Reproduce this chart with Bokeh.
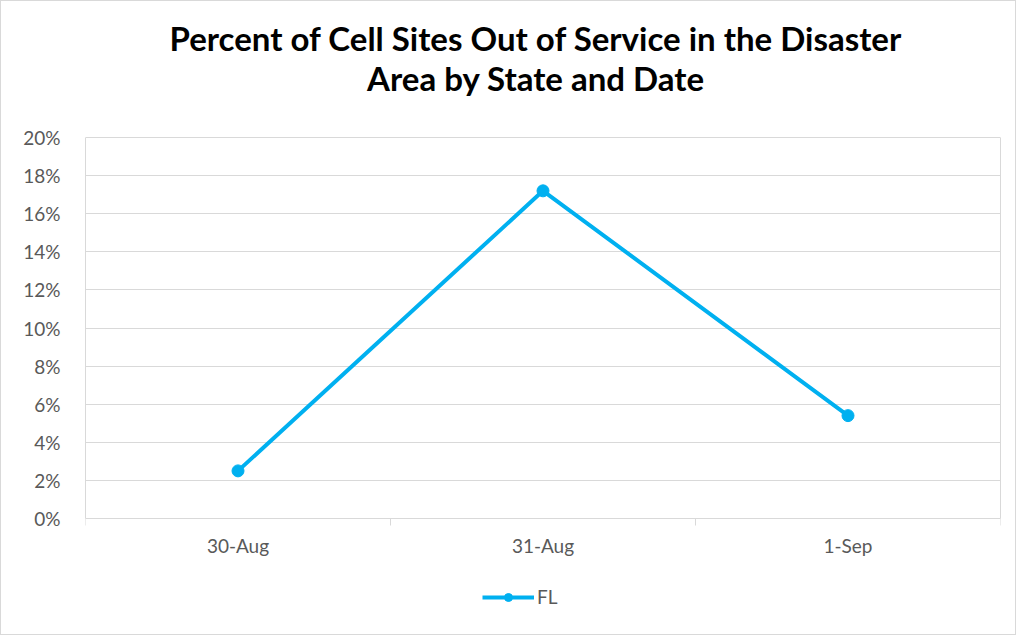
from bokeh.plotting import figure
from bokeh.models import (Range1d, FixedTicker, NumeralTickFormatter, Legend, LegendItem, Label, LinearAxis)
from bokeh.embed import file_html
from bokeh.resources import INLINE

dates = ["30-Aug", "31-Aug", "1-Sep"]
fl_values = [0.025, 0.172, 0.054]
series_name = "FL"
title_lines = ["Percent of Cell Sites Out of Service in the Disaster", "Area by State and Date"]
y_ticks = [0.0, 0.02, 0.04, 0.06, 0.08, 0.10, 0.12, 0.14, 0.16, 0.18, 0.20]

BLUE = "#00B0F0"
GRID = "#d9d9d9"
TXT = "#595959"
FONT = "Lato"

# layout in canvas pixels
W, H = 1016, 635
LEFT, RIGHT, TOP, BOTTOM = 84, 17, 2, 4
ZERO_PX = 517       # canvas y of 0%
GRIDTOP_PX = 136    # canvas y of top tick
TITLE_PX = [36, 76]  # canvas y of title line centres
y_max = y_ticks[-1]
unit_per_px = y_max / (ZERO_PX - GRIDTOP_PX)


def px_to_y(py):
    return (ZERO_PX - py) * unit_per_px


y_lo = px_to_y(H - BOTTOM)
y_hi = px_to_y(TOP)

xs = [i + 0.5 for i in range(len(dates))]

p = figure(width=W, height=H, output_backend="svg", toolbar_location=None,
           x_range=Range1d(0, len(dates)), y_range=Range1d(y_lo, y_hi),
           min_border_left=LEFT, min_border_right=RIGHT, min_border_top=TOP,
           min_border_bottom=BOTTOM)
p.title = None
p.styles = {"border": "1px solid #d9d9d9", "box-sizing": "border-box"}

for line, py in zip(title_lines, TITLE_PX):
    p.add_layout(Label(x=len(dates) / 2, y=px_to_y(py), x_offset=-7, text=line,
                       text_align="center", text_baseline="middle", text_font=FONT,
                       text_font_size="33px", text_font_style="bold", text_color="#000000"))

p.outline_line_color = None
p.background_fill_color = "white"
p.border_fill_color = "white"

# y axis
p.yaxis.ticker = FixedTicker(ticks=y_ticks)
p.yaxis.formatter = NumeralTickFormatter(format="0%")
p.yaxis.bounds = (0, y_max)
p.yaxis.major_tick_line_color = None
p.yaxis.minor_tick_line_color = None
p.yaxis.axis_line_color = GRID
p.yaxis.major_label_text_font = FONT
p.yaxis.major_label_text_font_size = "19px"
p.yaxis.major_label_text_color = TXT
p.yaxis.major_label_standoff = 19
p.ygrid.ticker = FixedTicker(ticks=y_ticks)
p.ygrid.grid_line_color = GRID
p.ygrid.grid_line_width = 1

right_axis = LinearAxis(ticker=FixedTicker(ticks=[]), bounds=(0, y_max),
                        axis_line_color=GRID, major_tick_line_color=None,
                        minor_tick_line_color=None, major_label_text_font_size="0px")
p.add_layout(right_axis, "right")

# x axis at 0%
p.xaxis.fixed_location = 0
p.xaxis.ticker = FixedTicker(ticks=xs, minor_ticks=list(range(len(dates) + 1)))
p.xaxis.major_label_overrides = {x: d for x, d in zip(xs, dates)}
p.xaxis.major_tick_line_color = None
p.xaxis.minor_tick_line_color = GRID
p.xaxis.minor_tick_out = 7
p.xaxis.minor_tick_in = 0
p.xaxis.axis_line_color = GRID
p.xaxis.major_label_text_font = FONT
p.xaxis.major_label_text_font_size = "19px"
p.xaxis.major_label_text_color = TXT
p.xaxis.major_label_standoff = 8
p.xgrid.grid_line_color = None

r_line = p.line(xs, fl_values, line_color=BLUE, line_width=4)
r_pts = p.scatter(xs, fl_values, size=12, fill_color=BLUE, line_color=BLUE)

legend_px = (481, 597)  # left edge and centre of legend on the canvas
legend = Legend(items=[LegendItem(label=series_name, renderers=[r_line, r_pts])],
                orientation="horizontal",
                location=(legend_px[0] - LEFT, (H - BOTTOM) - legend_px[1] - 10),
                label_text_font=FONT, label_text_font_size="19px", label_text_color=TXT,
                border_line_color=None, background_fill_alpha=0,
                glyph_width=52, glyph_height=20, label_standoff=3, padding=0, margin=0, spacing=0)
p.add_layout(legend, "center")

open("out.html", "w").write(file_html(p, INLINE))
